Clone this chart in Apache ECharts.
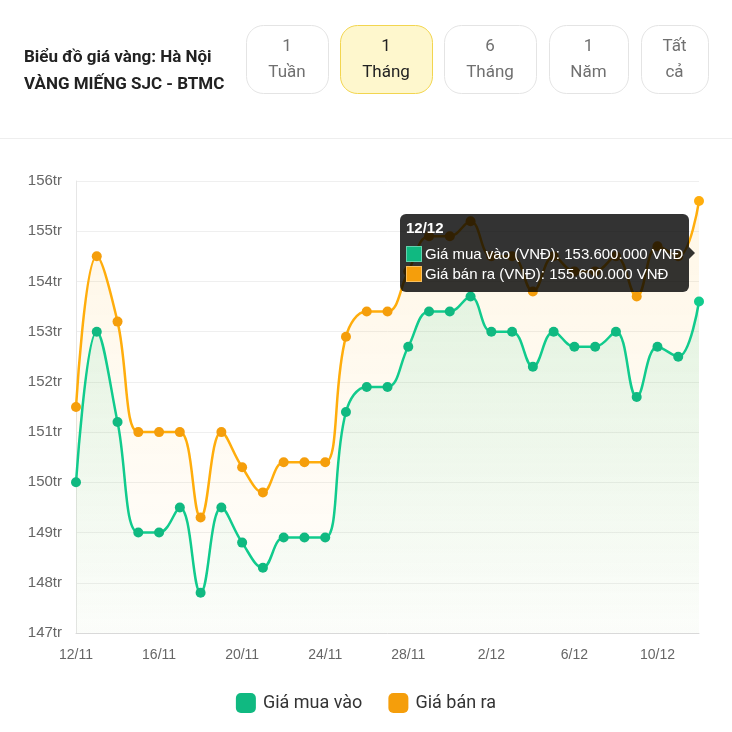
<!DOCTYPE html>
<html>
<head>
<meta charset="utf-8">
<script src="https://cdn.jsdelivr.net/npm/echarts@6/dist/echarts.min.js"></script>
<style>
  html, body { margin: 0; padding: 0; background: #fff; }
  #chart { width: 732px; height: 732px; }
</style>
</head>
<body>
<div id="chart"></div>
<script>
// du lieu gia vang (trieu VND)
var days = ['12/11', '13/11', '14/11', '15/11', '16/11', '17/11', '18/11', '19/11', '20/11', '21/11',
  '22/11', '23/11', '24/11', '25/11', '26/11', '27/11', '28/11', '29/11', '30/11', '1/12',
  '2/12', '3/12', '4/12', '5/12', '6/12', '7/12', '8/12', '9/12', '10/12', '11/12', '12/12'];
var buyPrices = [150.0, 153.0, 151.2, 149.0, 149.0, 149.5, 147.8, 149.5, 148.8, 148.3,
  148.9, 148.9, 148.9, 151.4, 151.9, 151.9, 152.7, 153.4, 153.4, 153.7,
  153.0, 153.0, 152.3, 153.0, 152.7, 152.7, 153.0, 151.7, 152.7, 152.5, 153.6];
var sellPrices = [151.5, 154.5, 153.2, 151.0, 151.0, 151.0, 149.3, 151.0, 150.3, 149.8,
  150.4, 150.4, 150.4, 152.9, 153.4, 153.4, 154.2, 154.9, 154.9, 155.2,
  154.5, 154.5, 153.8, 154.5, 154.2, 154.2, 154.5, 153.7, 154.7, 154.5, 155.6];
var seriesNames = ['Giá mua vào', 'Giá bán ra'];
var rangeButtons = [['1', 'Tuần'], ['1', 'Tháng'], ['6', 'Tháng'], ['1', 'Năm'], ['Tất', 'cả']];

var GREEN = '#10b981';
var ORANGE = '#f59e0b';

var chart = echarts.init(document.getElementById('chart'));

// header: tieu de + cac nut chon khoang thoi gian
var btnX = [246, 340, 444, 549, 641];
var btnW = [82, 92, 92, 79, 67];
var graphics = [
  { type: 'text', x: 24, y: 58, style: { text: 'Biểu đồ giá vàng: Hà Nội', font: 'bold 17px Roboto', fill: '#222', verticalAlign: 'middle' } },
  { type: 'text', x: 24, y: 85, style: { text: 'VÀNG MIẾNG SJC - BTMC', font: 'bold 17px Roboto', fill: '#222', verticalAlign: 'middle' } },
  { type: 'rect', shape: { x: 0, y: 138, width: 732, height: 1 }, style: { fill: '#eeeeee' } }
];
for (var i = 0; i < rangeButtons.length; i++) {
  var active = i === 1;
  graphics.push({
    type: 'rect',
    shape: { x: btnX[i] + 0.5, y: 25.5, width: btnW[i], height: 68, r: 17 },
    style: { fill: active ? '#fef7cd' : '#fff', stroke: active ? '#f2d54f' : '#e4e4e4', lineWidth: 1 }
  });
  graphics.push({
    type: 'text', x: btnX[i] + btnW[i] / 2, y: 47,
    style: { text: rangeButtons[i][0], font: '17px Roboto', fill: active ? '#222' : '#707070', align: 'center', verticalAlign: 'middle' }
  });
  graphics.push({
    type: 'text', x: btnX[i] + btnW[i] / 2, y: 73,
    style: { text: rangeButtons[i][1], font: '17px Roboto', fill: active ? '#222' : '#707070', align: 'center', verticalAlign: 'middle' }
  });
}

function fmtVnd(v) {
  return Math.round(v * 1000000).toString().replace(/\B(?=(\d{3})+(?!\d))/g, '.') + ' VNĐ';
}

var option = {
  animation: false,
  graphic: graphics,
  grid: { left: 76, right: 33, top: 181, bottom: 99 },
  legend: {
    data: seriesNames,
    bottom: 14,
    left: 'center',
    icon: 'roundRect',
    itemWidth: 20,
    itemHeight: 20,
    itemGap: 26,
    textStyle: { fontFamily: 'Roboto', fontSize: 18, color: '#333', padding: [0, 0, 0, 2] }
  },
  tooltip: {
    trigger: 'axis',
    triggerOn: 'none',
    alwaysShowContent: true,
    axisPointer: { type: 'none' },
    backgroundColor: 'rgba(0,0,0,0.8)',
    borderWidth: 0,
    padding: [6, 6, 8, 6],
    extraCssText: 'border-radius:6px;box-shadow:none;',
    textStyle: { color: '#fff', fontFamily: 'Liberation Sans, Arial', fontSize: 15 },
    position: function () { return [400, 214]; },
    formatter: function (params) {
      var html = '<div style="font-weight:bold;line-height:16px;margin-bottom:8px;">' + params[0].axisValue + '</div>';
      params.forEach(function (p) {
        html += '<div style="line-height:20px;white-space:nowrap;">' +
          '<span style="display:inline-block;width:14px;height:14px;background:' + p.color +
          ';border:1px solid rgba(255,255,255,0.35);vertical-align:-3px;margin-right:3px;"></span>' +
          p.seriesName + ' (VNĐ): ' + fmtVnd(p.value) + '</div>';
      });
      html += '<div style="position:absolute;right:-6px;top:33px;width:0;height:0;border-top:6px solid transparent;' +
        'border-bottom:6px solid transparent;border-left:6px solid rgba(0,0,0,0.8);"></div>';
      return html;
    }
  },
  xAxis: {
    type: 'category',
    data: days,
    boundaryGap: false,
    axisLine: { lineStyle: { color: '#d9d9d9' } },
    axisTick: { show: false },
    axisLabel: { interval: 3, margin: 15, color: '#666', fontFamily: 'Liberation Sans, Arial', fontSize: 14 }
  },
  yAxis: {
    type: 'value',
    min: 147,
    max: 156,
    interval: 1,
    axisLine: { show: true, lineStyle: { color: '#e6e6e6' } },
    axisTick: { show: false },
    axisLabel: { margin: 14, color: '#666', fontFamily: 'Liberation Sans, Arial', fontSize: 15, formatter: '{value}tr' },
    splitLine: { lineStyle: { color: '#efefef' } }
  },
  series: [
    {
      name: seriesNames[0],
      type: 'line',
      data: buyPrices,
      smooth: 0.4,
      z: 3,
      symbol: 'circle',
      symbolSize: 10,
      color: GREEN,
      lineStyle: { width: 2.5, color: GREEN },
      emphasis: { scale: false },
      areaStyle: {
        color: new echarts.graphic.LinearGradient(0, 0, 0, 1, [
          { offset: 0, color: 'rgba(16,185,129,0.16)' },
          { offset: 1, color: 'rgba(16,185,129,0.02)' }
        ])
      }
    },
    {
      name: seriesNames[1],
      type: 'line',
      data: sellPrices,
      smooth: 0.4,
      z: 2,
      symbol: 'circle',
      symbolSize: 10,
      color: ORANGE,
      lineStyle: { width: 2.5, color: ORANGE },
      emphasis: { scale: false },
      areaStyle: {
        color: new echarts.graphic.LinearGradient(0, 0, 0, 1, [
          { offset: 0, color: 'rgba(245,158,11,0.14)' },
          { offset: 1, color: 'rgba(245,158,11,0.02)' }
        ])
      }
    }
  ]
};

chart.setOption(option);
chart.dispatchAction({ type: 'showTip', seriesIndex: 0, dataIndex: buyPrices.length - 1 });
</script>
</body>
</html>
